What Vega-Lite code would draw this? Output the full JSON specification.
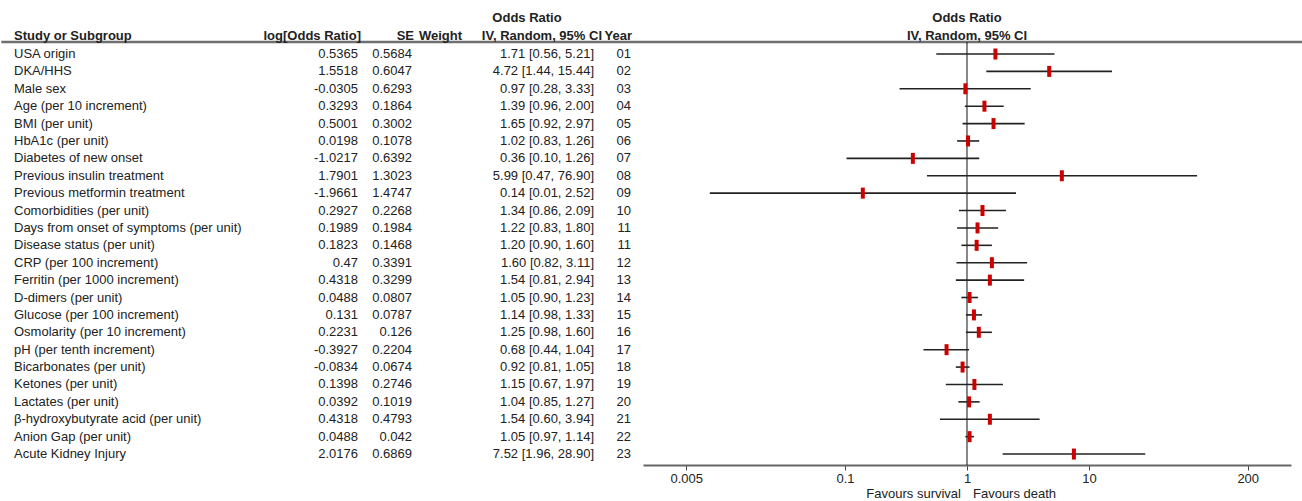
{
  "$schema": "https://vega.github.io/schema/vega-lite/v6.json",
  "padding": 0,
  "spacing": 0,
  "bounds": "flush",
  "background": "white",
  "config": {
    "view": {"stroke": null},
    "font": "Liberation Sans",
    "text": {"font": "Liberation Sans", "fontSize": 13, "color": "#222"},
    "concat": {"spacing": 0}
  },
  "datasets": {
    "one": [{"k": 1}],
    "rows": [
      {"row": 0, "name": "USA origin", "logor": "0.5365", "se": "0.5684", "ci": "1.71 [0.56, 5.21]", "year": "01", "or": 1.71, "lo": 0.56, "hi": 5.21},
      {"row": 1, "name": "DKA/HHS", "logor": "1.5518", "se": "0.6047", "ci": "4.72 [1.44, 15.44]", "year": "02", "or": 4.72, "lo": 1.44, "hi": 15.44},
      {"row": 2, "name": "Male sex", "logor": "-0.0305", "se": "0.6293", "ci": "0.97 [0.28, 3.33]", "year": "03", "or": 0.97, "lo": 0.28, "hi": 3.33},
      {"row": 3, "name": "Age (per 10 increment)", "logor": "0.3293", "se": "0.1864", "ci": "1.39 [0.96, 2.00]", "year": "04", "or": 1.39, "lo": 0.96, "hi": 2.0},
      {"row": 4, "name": "BMI (per unit)", "logor": "0.5001", "se": "0.3002", "ci": "1.65 [0.92, 2.97]", "year": "05", "or": 1.65, "lo": 0.92, "hi": 2.97},
      {"row": 5, "name": "HbA1c (per unit)", "logor": "0.0198", "se": "0.1078", "ci": "1.02 [0.83, 1.26]", "year": "06", "or": 1.02, "lo": 0.83, "hi": 1.26},
      {"row": 6, "name": "Diabetes of new onset", "logor": "-1.0217", "se": "0.6392", "ci": "0.36 [0.10, 1.26]", "year": "07", "or": 0.36, "lo": 0.103, "hi": 1.26},
      {"row": 7, "name": "Previous insulin treatment", "logor": "1.7901", "se": "1.3023", "ci": "5.99 [0.47, 76.90]", "year": "08", "or": 5.99, "lo": 0.47, "hi": 76.9},
      {"row": 8, "name": "Previous metformin treatment", "logor": "-1.9661", "se": "1.4747", "ci": "0.14 [0.01, 2.52]", "year": "09", "or": 0.14, "lo": 0.0078, "hi": 2.52},
      {"row": 9, "name": "Comorbidities (per unit)", "logor": "0.2927", "se": "0.2268", "ci": "1.34 [0.86, 2.09]", "year": "10", "or": 1.34, "lo": 0.86, "hi": 2.09},
      {"row": 10, "name": "Days from onset of symptoms (per unit)", "logor": "0.1989", "se": "0.1984", "ci": "1.22 [0.83, 1.80]", "year": "11", "or": 1.22, "lo": 0.83, "hi": 1.8},
      {"row": 11, "name": "Disease status (per unit)", "logor": "0.1823", "se": "0.1468", "ci": "1.20 [0.90, 1.60]", "year": "11", "or": 1.2, "lo": 0.9, "hi": 1.6},
      {"row": 12, "name": "CRP (per 100 increment)", "logor": "0.47", "se": "0.3391", "ci": "1.60 [0.82, 3.11]", "year": "12", "or": 1.6, "lo": 0.82, "hi": 3.11},
      {"row": 13, "name": "Ferritin (per 1000 increment)", "logor": "0.4318", "se": "0.3299", "ci": "1.54 [0.81, 2.94]", "year": "13", "or": 1.54, "lo": 0.81, "hi": 2.94},
      {"row": 14, "name": "D-dimers (per unit)", "logor": "0.0488", "se": "0.0807", "ci": "1.05 [0.90, 1.23]", "year": "14", "or": 1.05, "lo": 0.9, "hi": 1.23},
      {"row": 15, "name": "Glucose (per 100 increment)", "logor": "0.131", "se": "0.0787", "ci": "1.14 [0.98, 1.33]", "year": "15", "or": 1.14, "lo": 0.98, "hi": 1.33},
      {"row": 16, "name": "Osmolarity (per 10 increment)", "logor": "0.2231", "se": "0.126", "ci": "1.25 [0.98, 1.60]", "year": "16", "or": 1.25, "lo": 0.98, "hi": 1.6},
      {"row": 17, "name": "pH (per tenth increment)", "logor": "-0.3927", "se": "0.2204", "ci": "0.68 [0.44, 1.04]", "year": "17", "or": 0.68, "lo": 0.44, "hi": 1.04},
      {"row": 18, "name": "Bicarbonates (per unit)", "logor": "-0.0834", "se": "0.0674", "ci": "0.92 [0.81, 1.05]", "year": "18", "or": 0.92, "lo": 0.81, "hi": 1.05},
      {"row": 19, "name": "Ketones (per unit)", "logor": "0.1398", "se": "0.2746", "ci": "1.15 [0.67, 1.97]", "year": "19", "or": 1.15, "lo": 0.67, "hi": 1.97},
      {"row": 20, "name": "Lactates (per unit)", "logor": "0.0392", "se": "0.1019", "ci": "1.04 [0.85, 1.27]", "year": "20", "or": 1.04, "lo": 0.85, "hi": 1.27},
      {"row": 21, "name": "β-hydroxybutyrate acid (per unit)", "logor": "0.4318", "se": "0.4793", "ci": "1.54 [0.60, 3.94]", "year": "21", "or": 1.54, "lo": 0.6, "hi": 3.94},
      {"row": 22, "name": "Anion Gap (per unit)", "logor": "0.0488", "se": "0.042", "ci": "1.05 [0.97, 1.14]", "year": "22", "or": 1.05, "lo": 0.97, "hi": 1.14},
      {"row": 23, "name": "Acute Kidney Injury", "logor": "2.0176", "se": "0.6869", "ci": "7.52 [1.96, 28.90]", "year": "23", "or": 7.52, "lo": 1.96, "hi": 28.9}
    ]
  },
  "hconcat": [
    {
      "width": 643,
      "height": 465,
      "layer": [
        {
          "data": {"name": "one"},
          "mark": {"type": "rule", "color": "#707070", "strokeWidth": 2.5},
          "encoding": {
            "x": {"datum": 1.3, "type": "quantitative", "scale": {"domain": [0, 643], "nice": false, "zero": false}, "axis": null},
            "x2": {"datum": 643},
            "y": {"datum": -0.69, "type": "quantitative", "scale": {"domain": [-3.105, 23.63], "reverse": true, "nice": false, "zero": false}, "axis": null}
          }
        },
        {
          "data": {"name": "one"},
          "mark": {"type": "text", "text": "Odds Ratio", "fontWeight": "bold", "align": "center"},
          "encoding": {"x": {"datum": 527, "type": "quantitative"}, "y": {"datum": -2.07, "type": "quantitative"}}
        },
        {
          "data": {"name": "one"},
          "mark": {"type": "text", "text": "Study or Subgroup", "fontWeight": "bold", "align": "left"},
          "encoding": {"x": {"datum": 14, "type": "quantitative"}, "y": {"datum": -1.035, "type": "quantitative"}}
        },
        {
          "data": {"name": "one"},
          "mark": {"type": "text", "text": "log[Odds Ratio]", "fontWeight": "bold", "align": "right"},
          "encoding": {"x": {"datum": 361, "type": "quantitative"}, "y": {"datum": -1.035, "type": "quantitative"}}
        },
        {
          "data": {"name": "one"},
          "mark": {"type": "text", "text": "SE", "fontWeight": "bold", "align": "right"},
          "encoding": {"x": {"datum": 414, "type": "quantitative"}, "y": {"datum": -1.035, "type": "quantitative"}}
        },
        {
          "data": {"name": "one"},
          "mark": {"type": "text", "text": "Weight", "fontWeight": "bold", "align": "right"},
          "encoding": {"x": {"datum": 462, "type": "quantitative"}, "y": {"datum": -1.035, "type": "quantitative"}}
        },
        {
          "data": {"name": "one"},
          "mark": {"type": "text", "text": "IV, Random, 95% CI", "fontWeight": "bold", "align": "right"},
          "encoding": {"x": {"datum": 602, "type": "quantitative"}, "y": {"datum": -1.035, "type": "quantitative"}}
        },
        {
          "data": {"name": "one"},
          "mark": {"type": "text", "text": "Year", "fontWeight": "bold", "align": "right"},
          "encoding": {"x": {"datum": 632, "type": "quantitative"}, "y": {"datum": -1.035, "type": "quantitative"}}
        },
        {
          "data": {"name": "rows"},
          "mark": {"type": "text", "align": "left"},
          "encoding": {"x": {"datum": 14, "type": "quantitative"}, "y": {"field": "row", "type": "quantitative"}, "text": {"field": "name"}}
        },
        {
          "data": {"name": "rows"},
          "mark": {"type": "text", "align": "right"},
          "encoding": {"x": {"datum": 358, "type": "quantitative"}, "y": {"field": "row", "type": "quantitative"}, "text": {"field": "logor"}}
        },
        {
          "data": {"name": "rows"},
          "mark": {"type": "text", "align": "right"},
          "encoding": {"x": {"datum": 412, "type": "quantitative"}, "y": {"field": "row", "type": "quantitative"}, "text": {"field": "se"}}
        },
        {
          "data": {"name": "rows"},
          "mark": {"type": "text", "align": "right"},
          "encoding": {"x": {"datum": 594, "type": "quantitative"}, "y": {"field": "row", "type": "quantitative"}, "text": {"field": "ci"}}
        },
        {
          "data": {"name": "rows"},
          "mark": {"type": "text", "align": "right"},
          "encoding": {"x": {"datum": 631, "type": "quantitative"}, "y": {"field": "row", "type": "quantitative"}, "text": {"field": "year"}}
        }
      ]
    },
    {
      "width": 648,
      "height": 465,
      "layer": [
        {
          "data": {"name": "one"},
          "mark": {"type": "rule", "color": "#707070", "strokeWidth": 2.5},
          "encoding": {
            "x": {"datum": 0.00221, "type": "quantitative", "scale": {"type": "log", "domain": [0.00221, 452.6], "nice": false},
              "axis": {
                "values": [0.005, 0.1, 1, 10, 200],
                "labelExpr": "datum.value == 0.005 ? '0.005' : datum.value == 0.1 ? '0.1' : format(datum.value, 'd')",
                "domainColor": "#666", "domainWidth": 2,
                "tickColor": "#444", "tickWidth": 1, "tickSize": 5,
                "labelFont": "Liberation Sans", "labelFontSize": 13, "labelColor": "#222", "labelPadding": 2,
                "grid": false, "title": null
              }
            },
            "x2": {"datum": 620},
            "y": {"datum": -0.69, "type": "quantitative", "scale": {"domain": [-3.105, 23.63], "reverse": true, "nice": false, "zero": false}, "axis": null}
          }
        },
        {
          "data": {"name": "one"},
          "mark": {"type": "rule", "color": "#111", "strokeWidth": 1},
          "encoding": {
            "x": {"datum": 1, "type": "quantitative"},
            "y": {"datum": -0.69, "type": "quantitative"},
            "y2": {"datum": 23.63}
          }
        },
        {
          "data": {"name": "rows"},
          "mark": {"type": "rule", "color": "#222", "strokeWidth": 1.6},
          "encoding": {
            "x": {"field": "lo", "type": "quantitative"},
            "x2": {"field": "hi"},
            "y": {"field": "row", "type": "quantitative"}
          }
        },
        {
          "data": {"name": "rows"},
          "mark": {"type": "tick", "orient": "vertical", "color": "#cc0000", "thickness": 4, "size": 11, "opacity": 1},
          "encoding": {
            "x": {"field": "or", "type": "quantitative"},
            "y": {"field": "row", "type": "quantitative"}
          }
        },
        {
          "data": {"name": "one"},
          "mark": {"type": "text", "text": "Odds Ratio", "fontWeight": "bold", "align": "center"},
          "encoding": {"x": {"datum": 1, "type": "quantitative"}, "y": {"datum": -2.07, "type": "quantitative"}}
        },
        {
          "data": {"name": "one"},
          "mark": {"type": "text", "text": "IV, Random, 95% CI", "fontWeight": "bold", "align": "center"},
          "encoding": {"x": {"datum": 1, "type": "quantitative"}, "y": {"datum": -1.035, "type": "quantitative"}}
        },
        {
          "data": {"name": "one"},
          "mark": {"type": "text", "text": "Favours survival", "align": "right", "dx": -6},
          "encoding": {"x": {"datum": 1, "type": "quantitative"}, "y": {"datum": 25.3, "type": "quantitative"}}
        },
        {
          "data": {"name": "one"},
          "mark": {"type": "text", "text": "Favours death", "align": "left", "dx": 6},
          "encoding": {"x": {"datum": 1, "type": "quantitative"}, "y": {"datum": 25.3, "type": "quantitative"}}
        }
      ]
    }
  ]
}
